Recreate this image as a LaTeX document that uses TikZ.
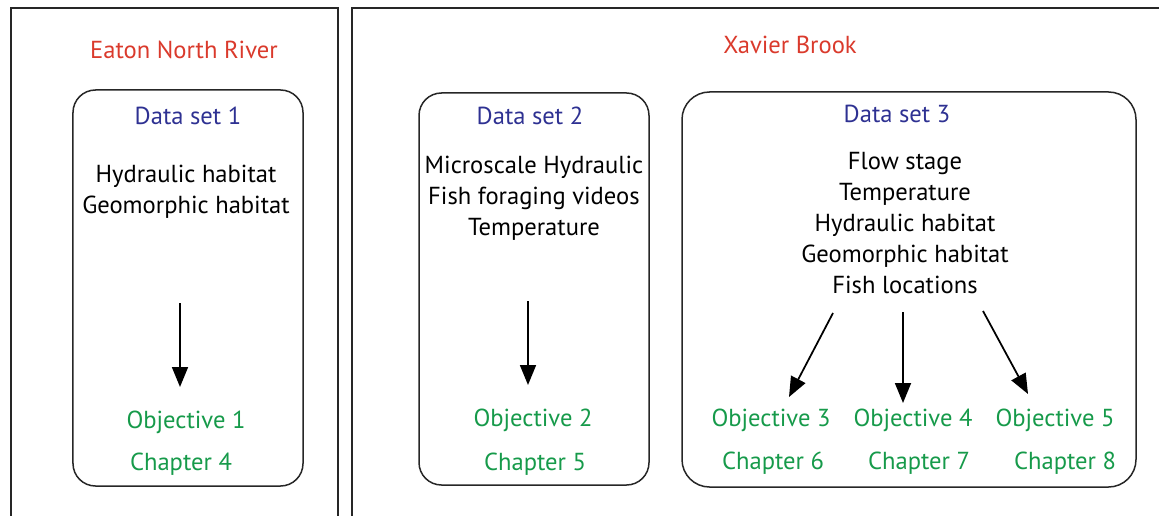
\documentclass[tikz,border=0pt]{standalone}
\usepackage{fontspec}
\setmainfont{PT Sans}
\usepackage{xcolor}
\usepackage{tikz}
\usetikzlibrary{arrows.meta}

\definecolor{siteRed}{RGB}{218,58,44}
\definecolor{setBlue}{RGB}{46,49,146}
\definecolor{objGreen}{RGB}{22,154,74}

\begin{document}
\begin{tikzpicture}[x=0.2mm, y=-0.2mm,
    frame/.style={line width=0.45mm, black!85},
    setbox/.style={draw=black!85, line width=0.3mm, rounded corners=4.5mm, inner sep=0pt},
    txt/.style={font=\fontsize{14}{17.6}\selectfont, align=center, inner sep=0pt},
    flow/.style={line width=0.35mm, -{Triangle[length=4mm,width=3.2mm]}}]
                \useasboundingbox (0,0) rectangle (1159,516);
                
                % Outer panels
                \draw[frame] (11,516) -- (11,8) -- (338,8) -- (338,516);
                \draw[frame] (352,516) -- (352,8) -- (1159,8);
                
                % Site names
                \node[txt, siteRed] (eaton) at (184,50) {Eaton North River};
                \node[txt, siteRed] (xavier) at (790,45) {Xavier Brook};
                
                % Data set boxes
                \node[setbox, minimum width=46mm, minimum height=79.2mm] (box1) at (188,288) {};
                \node[setbox, minimum width=46mm, minimum height=78.4mm] (box2) at (534,289) {};
                \node[setbox, minimum width=90.8mm, minimum height=79mm, rounded corners=5.5mm] (box3) at (909,289.5) {};
                
                % Data set 1
                \node[txt, setBlue] (set1) at (188,116) {Data set 1};
                \node[txt] (vars1) at (186,192) {Hydraulic habitat\\Geomorphic habitat};
                \node[txt, objGreen] (obj1) at (186,422) {Objective 1};
                \node[txt, objGreen] (ch4) at (181,464) {Chapter 4};
                
                % Data set 2
                \node[txt, setBlue] (set2) at (530,116) {Data set 2};
                \node[txt] (vars2) at (534,198) {Microscale Hydraulic\\Fish foraging videos\\Temperature};
                \node[txt, objGreen] (obj2) at (533,420) {Objective 2};
                \node[txt, objGreen] (ch5) at (535,464) {Chapter 5};
                
                % Data set 3
                \node[txt, setBlue] (set3) at (897,114) {Data set 3};
                \node[txt] (vars3) at (905,223) {Flow stage\\Temperature\\Hydraulic habitat\\Geomorphic habitat\\Fish locations};
                \node[txt, objGreen] (obj3) at (771,420) {Objective 3};
                \node[txt, objGreen] (obj4) at (913,420) {Objective 4};
                \node[txt, objGreen] (obj5) at (1055,420) {Objective 5};
                \node[txt, objGreen] (ch6) at (773,463) {Chapter 6};
                \node[txt, objGreen] (ch7) at (919,463) {Chapter 7};
                \node[txt, objGreen] (ch8) at (1065,463) {Chapter 8};
                
                % Arrows
                \coordinate (a1s) at (180,303);
                \coordinate (a1e) at (180,387);
                \coordinate (a2s) at (528,301);
                \coordinate (a2e) at (528,385);
                \coordinate (a3s) at (833,313);
                \coordinate (a3e) at (789,397);
                \coordinate (a4s) at (903,312);
                \coordinate (a4e) at (903,403);
                \coordinate (a5s) at (983,311);
                \coordinate (a5e) at (1028,394);
                \draw[flow] (a1s) -- (a1e);
                \draw[flow] (a2s) -- (a2e);
                \draw[flow] (a3s) -- (a3e);
                \draw[flow] (a4s) -- (a4e);
                \draw[flow] (a5s) -- (a5e);
            \end{tikzpicture}
\end{document}
